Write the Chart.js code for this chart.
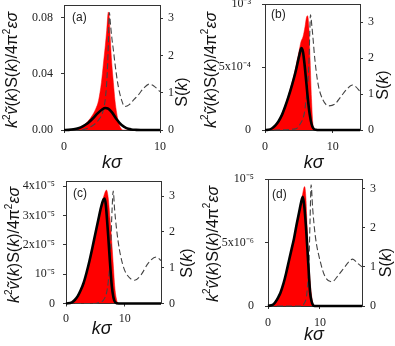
<!DOCTYPE html>
<html><head><meta charset="utf-8">
<script src="https://cdn.jsdelivr.net/npm/chart.js@4.4.0/dist/chart.umd.min.js"></script>
<style>
html,body{margin:0;padding:0;background:#fff;width:395px;height:346px;overflow:hidden;}
.p{position:absolute;}
canvas{display:block;}
</style></head><body>
<div class="p" style="left:0;top:0"><canvas id="ca" width="197" height="172"></canvas></div>
<div class="p" style="left:197px;top:0"><canvas id="cb" width="198" height="172"></canvas></div>
<div class="p" style="left:0;top:172px"><canvas id="cc" width="197" height="174"></canvas></div>
<div class="p" style="left:197px;top:172px"><canvas id="cd" width="198" height="174"></canvas></div>
<script>
// ---------- data ----------
// panel (a)
const kBlackA = [0,0.5,1,1.5,2,2.5,3,3.5,4,4.3,4.6,5,5.5,6,6.5,7,7.5,8,10];
const blackA  = [0,0.0001,0.0005,0.0013,0.0028,0.005,0.0082,0.0118,0.0148,0.0157,0.0152,0.0125,0.0075,0.0035,0.0013,0.0004,0.0001,0,0];
const kRedA   = [0,1,1.5,2,2.5,3,3.3,3.6,3.9,4.1,4.3,4.45,4.62,4.72,4.83,4.97,5.14,5.31,5.49,5.66,5.9,6.2,10];
const redA    = [0,0.0005,0.0015,0.003,0.0062,0.011,0.015,0.021,0.034,0.047,0.06,0.071,0.084,0.08,0.064,0.048,0.034,0.021,0.012,0.006,0.0015,0,0];
const kSA     = [0,1.5,2,2.5,3,3.6,4.1,4.33,4.5,4.62,4.73,4.83,4.97,5.14,5.4,5.66,6,6.32,6.8,7.3,7.74,8.3,8.89,9.4,10];
const sA      = [0,0,0.01,0.05,0.12,0.27,0.54,0.9,1.5,2.3,3.15,2.87,2.5,2.15,1.6,1.16,0.8,0.63,0.68,0.82,0.94,1.12,1.23,1.17,1.03];
// panel (b)
const kBlackB = [0,0.5,1,1.5,2,2.5,3,3.5,4,4.5,5,5.35,5.6,5.85,6.1,6.35,6.6,6.85,7.1,7.5,8,14];
const blackB  = [0,0.02e-4,0.12e-4,0.35e-4,0.7e-4,1.2e-4,1.9e-4,2.7e-4,3.6e-4,4.6e-4,5.8e-4,6.5e-4,6.2e-4,5.1e-4,3.7e-4,2.3e-4,1.2e-4,0.5e-4,0.15e-4,0.02e-4,0,0];
const kRedB   = [0,0.5,1,2,3,4,4.5,5,5.3,5.6,5.9,6.1,6.25,6.45,6.65,6.85,7.05,7.2,14];
const redB    = [0,0,0.12e-4,0.72e-4,2.0e-4,3.8e-4,4.9e-4,6.2e-4,7.0e-4,7.4e-4,8.2e-4,8.9e-4,9.07e-4,8.3e-4,5.5e-4,2.5e-4,0.5e-4,0,0];
const kSB     = [0,4.5,5.1,5.8,6.0,6.3,6.5,6.6,6.7,6.9,7.1,7.3,7.8,8.5,9.4,10.3,11.2,12,12.9,13.4,14];
const sB      = [0,0.03,0.14,0.47,0.75,1.3,2.0,2.7,3.2,2.9,2.5,2.05,1.3,0.85,0.67,0.72,0.93,1.12,1.25,1.2,1.07];
// panel (c)
const kBlackC = [0,1,1.5,2,2.5,3,3.5,4,4.5,5,5.5,6,6.4,6.6,6.8,7,7.2,7.5,7.8,8.1,8.4,9,16.2];
const blackC  = [0,0.04e-5,0.12e-5,0.25e-5,0.45e-5,0.7e-5,1.05e-5,1.45e-5,1.9e-5,2.38e-5,2.85e-5,3.3e-5,3.55e-5,3.58e-5,3.35e-5,2.85e-5,2.3e-5,1.4e-5,0.62e-5,0.2e-5,0.04e-5,0,0];
const kRedC   = [0,1,2,3,4,5,5.5,6,6.5,6.9,7.2,7.5,7.8,8.1,8.3,8.6,8.9,16.2];
const redC    = [0,0.03e-5,0.22e-5,0.65e-5,1.4e-5,2.35e-5,2.85e-5,3.3e-5,3.7e-5,3.87e-5,3.6e-5,2.9e-5,2.1e-5,1.2e-5,0.6e-5,0.15e-5,0,0];
const kSC     = [0,5,5.5,6.6,7.2,7.6,7.85,8.05,8.3,8.9,9.7,10.5,11.7,12.8,14,15.4,16.2];
const sC      = [0,0,0.02,0.15,0.6,1.5,2.6,3.14,2.6,1.72,1.07,0.78,0.65,0.8,1.12,1.3,1.2];
// panel (d)
const kBlackD = [0,1,1.5,2,2.4,3,3.5,4,4.5,5,5.5,6,6.4,6.7,7,7.3,7.6,7.9,8.1,8.4,8.7,9,18.1];
const blackD  = [0,0.12e-6,0.35e-6,0.7e-6,1.05e-6,1.8e-6,2.6e-6,3.5e-6,4.4e-6,5.3e-6,6.4e-6,7.4e-6,8.2e-6,8.6e-6,7.8e-6,6.3e-6,4.4e-6,2.3e-6,1.1e-6,0.35e-6,0.05e-6,0,0];
const kRedD   = [0,1,2,3,4,5,6,6.5,6.85,7.05,7.3,7.5,7.8,8.1,8.5,8.8,18.1];
const redD    = [0,0.1e-6,0.65e-6,1.75e-6,3.45e-6,5.3e-6,7.4e-6,8.4e-6,9.2e-6,9.4e-6,8.5e-6,6.5e-6,4.0e-6,2e-6,0.5e-6,0,0];
const kSD     = [0,6.5,6.9,7.5,7.9,8.1,8.3,8.6,9.1,10.1,11,12.3,13.5,14.5,15.5,16.3,17.2,18.1];
const sD      = [0,0,0.05,0.35,1.2,2.2,3.1,2.5,1.8,1.12,0.75,0.62,0.78,0.95,1.12,1.2,1.1,1.0];

// ticks
const xTicks = [0,10];
const xLabels = ['0','10'];
const sTicks = [0,1,2,3];
const sLabels = ['0','1','2','3'];
const yTicksA = [0,0.04,0.08];      const yLabelsA = ['0.00','0.04','0.08'];
const yTicksB = [0,5e-4,1e-3];      const yLabelsB = ['0','5x10\u207B\u2074','10\u207B\u00B3'];
const yTicksC = [0,1e-5,2e-5,3e-5,4e-5]; const yLabelsC = ['0','10\u207B\u2075','2x10\u207B\u2075','3x10\u207B\u2075','4x10\u207B\u2075'];
const yTicksD = [0,5e-6,1e-5];      const yLabelsD = ['0','5x10\u207B\u2076','10\u207B\u2075'];
const panelLabels = ['(a)','(b)','(c)','(d)'];
// axis ranges
const xMaxes = [10,14,16.2,18.1];
const yMaxes = [0.089,1e-3,4.18e-5,1e-5];
const sMaxes = [3.35,3.5,3.42,3.25];

// ---------- drawing ----------
const SANS = '"Liberation Sans", Arial, sans-serif';
const SERIF = '"Liberation Serif", "Times New Roman", serif';
const zip = (k, v) => k.map((x, i) => ({x, y: v[i]}));

function drawRich(ctx, segs, cx, cy, rot, size) {
  ctx.save();
  ctx.translate(cx, cy); ctx.rotate(rot);
  const fontOf = s => (s.i ? 'italic ' : '') + (s.sup ? Math.round(size * 0.62) : size) + 'px ' + SANS;
  let w = 0; const ws = [];
  segs.forEach(s => { ctx.font = fontOf(s); const m = ctx.measureText(s.t).width; ws.push(m); w += m; });
  let x = -w / 2;
  ctx.textBaseline = 'middle'; ctx.textAlign = 'left'; ctx.fillStyle = '#111';
  segs.forEach((s, i) => { ctx.font = fontOf(s); ctx.fillText(s.t, x, s.sup ? -size * 0.38 : 0); x += ws[i]; });
  ctx.restore();
}
const yTitle = [{t:'k',i:1},{t:'2',sup:1},{t:'\u1E7D',i:1},{t:'('},{t:'k',i:1},{t:')S('},{t:'k',i:1},{t:')/4\u03C0'},{t:'2',sup:1},{t:'\u03B5\u03C3',i:1}];
const sTitle = [{t:'S('},{t:'k',i:1},{t:')'}];
const kTitle = [{t:'k\u03C3',i:1}];

const deco = {
  id: 'deco',
  afterDraw(chart, args, o) {
    const {ctx, chartArea: a} = chart;
    ctx.save();
    ctx.strokeStyle = '#333'; ctx.lineWidth = 1;
    ctx.beginPath(); ctx.moveTo(a.left, Math.round(a.top) + 0.5); ctx.lineTo(a.right, Math.round(a.top) + 0.5); ctx.stroke();
    drawRich(ctx, yTitle, o.yT[0], o.yT[1], -Math.PI / 2, 16);
    drawRich(ctx, sTitle, o.sT[0], o.sT[1], -Math.PI / 2, 16);
    drawRich(ctx, kTitle, o.kT[0], o.kT[1], 0, 18);
    ctx.font = '12px ' + SANS; ctx.fillStyle = '#222'; ctx.textAlign = 'left'; ctx.textBaseline = 'middle';
    ctx.fillText(o.label, o.lab[0], o.lab[1]);
    ctx.restore();
  }
};

const geo = [
  {id:'ca', lw:64, rw:37, top:5, bh:42, lpad:8,  rpad:5, bpad:7, yT:[13,70],   sT:[182.5,92], kT:[112,163],   lab:[72,18]},
  {id:'cb', lw:68, rw:35, top:4, bh:42, lpad:11, rpad:5, bpad:7, yT:[14.7,70], sT:[187,85],   kT:[116.7,163], lab:[74,15]},
  {id:'cc', lw:66, rw:36, top:9, bh:42.5, lpad:8, rpad:5, bpad:5, yT:[15,73],  sT:[187.5,91], kT:[101.7,157], lab:[73,22]},
  {id:'cd', lw:71, rw:33, top:7, bh:40, lpad:11, rpad:5, bpad:7, yT:[16.3,72], sT:[190,90.5], kT:[117,163],   lab:[75,23]}
];
const series = [
  {kb:kBlackA, b:blackA, kr:kRedA, r:redA, ks:kSA, s:sA, yt:yTicksA, yl:yLabelsA},
  {kb:kBlackB, b:blackB, kr:kRedB, r:redB, ks:kSB, s:sB, yt:yTicksB, yl:yLabelsB},
  {kb:kBlackC, b:blackC, kr:kRedC, r:redC, ks:kSC, s:sC, yt:yTicksC, yl:yLabelsC},
  {kb:kBlackD, b:blackD, kr:kRedD, r:redD, ks:kSD, s:sD, yt:yTicksD, yl:yLabelsD}
];

Chart.defaults.font.family = SERIF;
Chart.defaults.font.size = 12;
Chart.defaults.color = '#222';

geo.forEach((g, i) => {
  const d = series[i];
  const gridOpt = {display: true, drawOnChartArea: false, drawTicks: true, tickLength: 3, color: '#333'};
  const borderOpt = {display: true, color: '#333', width: 1};
  new Chart(document.getElementById(g.id), {
    type: 'line',
    data: {
      datasets: [
        {data: zip(d.kb, d.b), yAxisID: 'y', borderColor: '#000', borderWidth: 2.6, pointRadius: 0, fill: false, cubicInterpolationMode: 'monotone', clip: false},
        {data: zip(d.ks, d.s), yAxisID: 'y2', borderColor: '#444', borderWidth: 1.1, borderDash: [6, 3], pointRadius: 0, fill: false, cubicInterpolationMode: 'monotone', clip: false},
        {data: zip(d.kr, d.r), yAxisID: 'y', borderColor: '#ff0000', borderWidth: 0.5, backgroundColor: '#ff0000', pointRadius: 0, fill: 'origin', cubicInterpolationMode: 'monotone'}
      ]
    },
    options: {
      responsive: false, animation: false, devicePixelRatio: 1,
      layout: {padding: {top: g.top, left: 0, right: 0, bottom: 0}},
      plugins: {legend: {display: false}, tooltip: {enabled: false}, deco: {yT: g.yT, sT: g.sT, kT: g.kT, lab: g.lab, label: panelLabels[i]}},
      scales: {
        x: {type: 'linear', position: 'bottom', min: 0, max: xMaxes[i],
            grid: gridOpt, border: borderOpt,
            ticks: {padding: g.bpad, maxRotation: 0, callback: (v, idx) => xLabels[idx]},
            afterBuildTicks: s => { s.ticks = xTicks.map(v => ({value: v})); },
            afterFit: s => { s.height = g.bh; s.paddingLeft = 0; s.paddingRight = 0; }},
        y: {type: 'linear', position: 'left', min: 0, max: yMaxes[i],
            grid: gridOpt, border: borderOpt,
            ticks: {padding: g.lpad, callback: (v, idx) => d.yl[idx]},
            afterBuildTicks: s => { s.ticks = d.yt.map(v => ({value: v})); },
            afterFit: s => { s.width = g.lw; s.paddingTop = 0; s.paddingBottom = 0; }},
        y2: {type: 'linear', position: 'right', min: 0, max: sMaxes[i],
            grid: gridOpt, border: borderOpt,
            ticks: {padding: g.rpad, callback: (v, idx) => sLabels[idx]},
            afterBuildTicks: s => { s.ticks = sTicks.map(v => ({value: v})); },
            afterFit: s => { s.width = g.rw; s.paddingTop = 0; s.paddingBottom = 0; }}
      }
    },
    plugins: [deco]
  });
});
</script>
</body></html>
